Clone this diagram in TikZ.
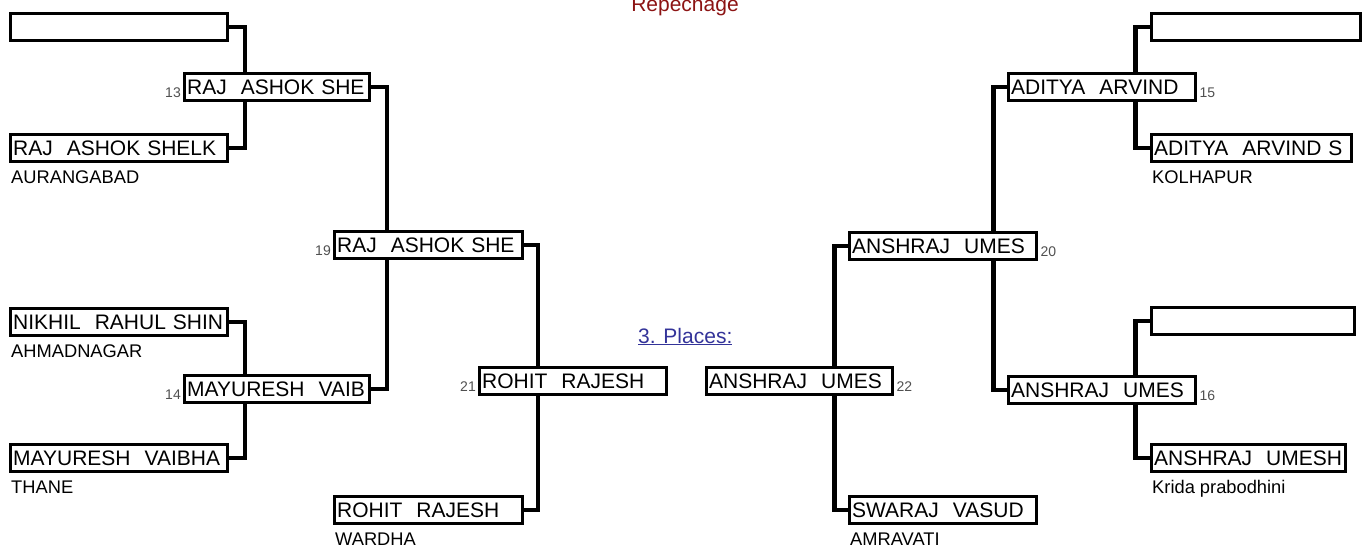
\documentclass[tikz,border=0pt]{standalone}
\usepackage{fontspec}
\setmainfont{Liberation Sans}
\usepackage{tikz}
\usetikzlibrary{positioning}

\definecolor{repred}{RGB}{140,20,20}
\definecolor{placeblue}{RGB}{51,51,153}
\definecolor{numgray}{RGB}{80,80,80}
\newcommand{\namefont}{\fontsize{21}{21}\selectfont}
\newcommand{\cityfont}{\fontsize{18.3}{18.3}\selectfont}
\newcommand{\numfont}{\fontsize{14}{14}\selectfont}

\begin{document}
\begin{tikzpicture}[x=1pt,y=-1pt,line cap=butt]
  \tikzstyle{box}=[draw, line width=3.3pt, anchor=north west, inner xsep=2.5pt,
    inner ysep=0pt, minimum height=27pt, text height=15pt, text depth=0pt,
    align=left, font=\namefont]
  \tikzstyle{link}=[line width=4.6pt]
  \tikzstyle{city}=[inner sep=0pt, font=\cityfont]
  \tikzstyle{num}=[inner sep=0pt, font=\numfont, text=numgray]

  \useasboundingbox (0,0) rectangle (1363,547);

  % left half
  \node[box, text width=212pt] (e13a) at (9,12)   {};
  \node[box, text width=212pt] (p13b) at (9,133)  {RAJ~~ASHOK SHELK};
  \node[box, text width=212pt] (p14a) at (9,307)  {NIKHIL~~RAHUL SHIN};
  \node[box, text width=212pt] (p14b) at (9,443)  {MAYURESH~~VAIBHA};
  \node[box, text width=180pt] (w13)  at (183,72)  {RAJ~~ASHOK SHE};
  \node[box, text width=180pt] (w14)  at (183,374) {MAYURESH~~VAIB};
  \node[box, text width=183pt] (w19)  at (333,230) {RAJ~~ASHOK SHE};
  \node[box, text width=183pt] (p21b) at (333,495) {ROHIT~~RAJESH};
  \node[box, text width=182pt] (w21)  at (478,366) {ROHIT~~RAJESH};

  % right half
  \node[box, text width=181pt] (w22)  at (705,366) {ANSHRAJ~~UMES};
  \node[box, text width=182pt] (w20)  at (848,231) {ANSHRAJ~~UMES};
  \node[box, text width=182pt] (p22b) at (848,495) {SWARAJ~~VASUD};
  \node[box, text width=182pt] (w15)  at (1007,72)  {ADITYA~~ARVIND};
  \node[box, text width=182pt] (w16)  at (1007,375) {ANSHRAJ~~UMES};
  \node[box, text width=204pt] (e15a) at (1150,12)  {};
  \node[box, text width=195pt] (p15b) at (1150,133) {ADITYA~~ARVIND S};
  \node[box, text width=198pt] (e16a) at (1150,306) {};
  \node[box, text width=189pt] (p16b) at (1150,443) {ANSHRAJ~~UMESH};

  % clubs
  \node[city, below right=7pt and 2pt of p13b.south west] (c13b) {AURANGABAD};
  \node[city, below right=7pt and 2pt of p14a.south west] (c14a) {AHMADNAGAR};
  \node[city, below right=7pt and 2pt of p14b.south west] (c14b) {THANE};
  \node[city, below right=7pt and 2pt of p21b.south west] (c21b) {WARDHA};
  \node[city, below right=7pt and 2pt of p22b.south west] (c22b) {AMRAVATI};
  \node[city, below right=7pt and 2pt of p15b.south west] (c15b) {KOLHAPUR};
  \node[city, below right=7pt and 2pt of p16b.south west] (c16b) {Krida prabodhini};

  % bout numbers
  \node[num, anchor=base east] (n13) at ([xshift=-2pt,yshift=5pt]w13.south west) {13};
  \node[num, anchor=base east] (n14) at ([xshift=-2pt,yshift=5pt]w14.south west) {14};
  \node[num, anchor=base east] (n19) at ([xshift=-2pt,yshift=5pt]w19.south west) {19};
  \node[num, anchor=base east] (n21) at ([xshift=-2pt,yshift=5pt]w21.south west) {21};
  \node[num, anchor=base west] (n22) at ([xshift=2pt,yshift=5pt]w22.south east) {22};
  \node[num, anchor=base west] (n20) at ([xshift=2pt,yshift=5pt]w20.south east) {20};
  \node[num, anchor=base west] (n15) at ([xshift=2pt,yshift=5pt]w15.south east) {15};
  \node[num, anchor=base west] (n16) at ([xshift=2pt,yshift=5pt]w16.south east) {16};

  \node[font=\namefont, text=repred, anchor=base] (rep) at (685,11) {Repechage};
  \node[font=\namefont, text=placeblue, anchor=base west, inner sep=0pt] (places)
    at (638,343) {\underline{3. Places:}};

  % bracket lines
  \draw[link] (e13a.east) -| ([xshift=62pt]w13.north west);
  \draw[link] (p13b.east) -| ([xshift=62pt]w13.south west);
  \draw[link] (p14a.east) -| ([xshift=62pt]w14.north west);
  \draw[link] (p14b.east) -| ([xshift=62pt]w14.south west);
  \draw[link] (w13.east)  -| ([xshift=54pt]w19.north west);
  \draw[link] (w14.east)  -| ([xshift=54pt]w19.south west);
  \draw[link] (w19.east)  -| ([xshift=60pt]w21.north west);
  \draw[link] (p21b.east) -| ([xshift=60pt]w21.south west);

  \draw[link] (e15a.west) -| ([xshift=-62pt]w15.north east);
  \draw[link] (p15b.west) -| ([xshift=-62pt]w15.south east);
  \draw[link] (e16a.west) -| ([xshift=-62pt]w16.north east);
  \draw[link] (p16b.west) -| ([xshift=-62pt]w16.south east);
  \draw[link] (w15.west)  -| ([xshift=-45pt]w20.north east);
  \draw[link] (w16.west)  -| ([xshift=-45pt]w20.south east);
  \draw[link] (w20.west)  -| ([xshift=-60pt]w22.north east);
  \draw[link] (p22b.west) -| ([xshift=-60pt]w22.south east);
\end{tikzpicture}
\end{document}
